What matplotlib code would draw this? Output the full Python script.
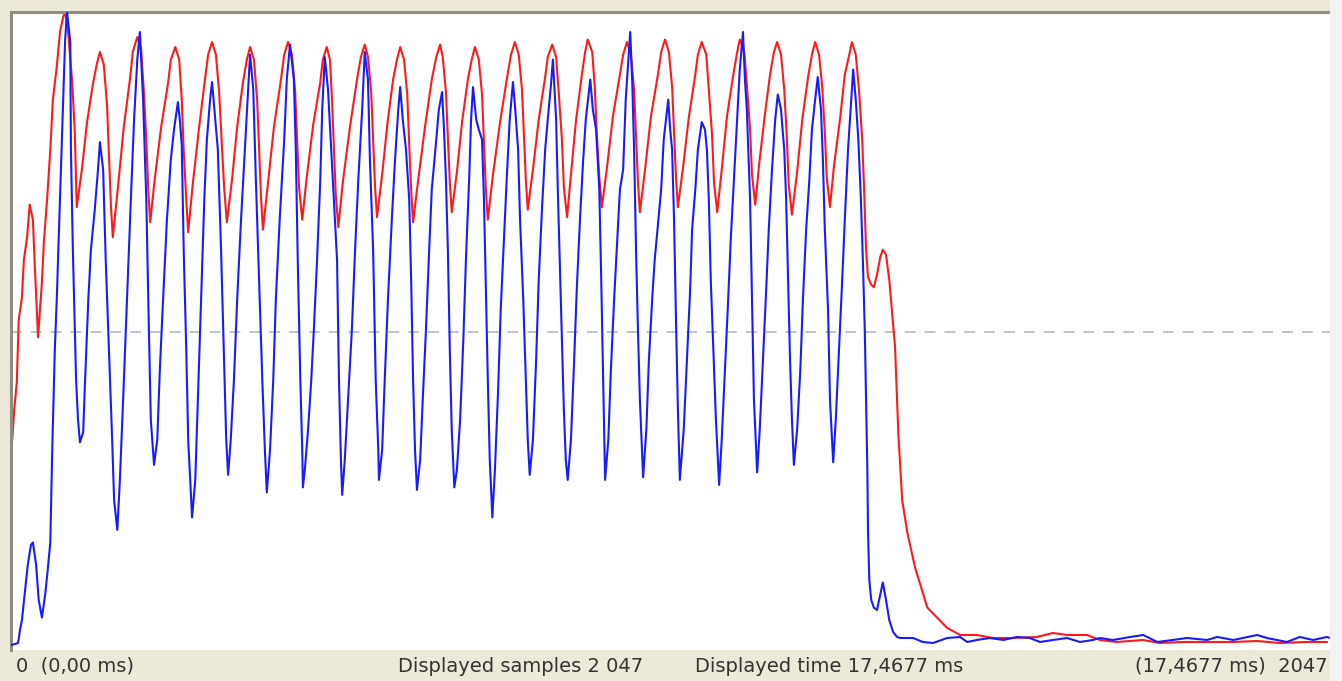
import matplotlib
matplotlib.use("Agg")
import matplotlib.pyplot as plt

# ---- data: sample index (0..2047) and ADC value (0..255) ----
red_s = [2, 5, 9, 12, 17, 20, 25, 29, 34, 37, 40, 42, 45, 48, 51, 56, 61, 65, 71, 76, 81, 84, 88, 95, 99, 102,
         110, 118, 127, 133, 138, 144, 149, 152, 155, 158,
         166, 175, 185, 189, 196, 202, 206, 210, 213, 216,
         223, 233, 244, 248, 255, 261, 265, 268, 272, 275,
         282, 292, 301, 306, 312, 318, 323, 327, 331, 335,
         343, 351, 360, 366, 371, 377, 382, 385, 388, 391,
         399, 408, 419, 424, 430, 436, 441, 444, 447, 452,
         459, 469, 480, 484, 490, 495, 498, 501, 504, 508,
         515, 526, 537, 543, 549, 554, 559, 562, 565, 568,
         576, 584, 593, 599, 604, 610, 615, 618, 621, 624,
         632, 643, 653, 660, 666, 670, 675, 678, 681, 684,
         692, 700, 709, 715, 720, 726, 731, 734, 737, 740,
         748, 759, 770, 776, 782, 788, 793, 796, 799, 802,
         810, 819, 829, 833, 840, 846, 850, 855, 858, 863,
         869, 877, 886, 891, 895, 902, 906, 909, 913, 917,
         925, 934, 945, 950, 956, 962, 967, 970, 973, 976,
         984, 993, 1004, 1009, 1015, 1021, 1026, 1029, 1032, 1035,
         1043, 1052, 1062, 1066, 1072, 1079, 1083, 1088, 1091, 1096,
         1103, 1111, 1121, 1127, 1131, 1138, 1142, 1147, 1150, 1155,
         1161, 1170, 1178, 1184, 1189, 1195, 1200, 1204, 1207, 1212,
         1220, 1228, 1237, 1243, 1248, 1254, 1259, 1263, 1266, 1271,
         1277, 1287, 1294, 1301, 1305, 1311, 1316, 1321, 1324, 1327, 1330, 1335, 1339,
         1344, 1349, 1353, 1358, 1363, 1367, 1372, 1377, 1383, 1391, 1403, 1422, 1453, 1473,
         1499, 1524, 1555, 1592, 1617, 1639, 1670, 1690, 1716, 1757, 1783, 1819, 1861, 1897,
         1934, 1969, 2011, 2042]
red_v = [84, 96, 107, 132, 141, 156, 165, 178, 172, 153, 136, 125, 136, 147, 163, 180, 200, 220, 233, 247, 253, 255, 249, 227, 207, 177,
         192, 211, 226, 234, 239, 234, 218, 198, 178, 165,
         185, 209, 229, 239, 245, 240, 224, 204, 184, 171,
         188, 209, 227, 236, 241, 236, 220, 200, 180, 167,
         186, 209, 228, 238, 243, 238, 223, 203, 184, 171,
         188, 209, 227, 236, 241, 236, 220, 201, 181, 168,
         187, 209, 228, 238, 243, 238, 223, 204, 185, 172,
         189, 210, 227, 236, 241, 236, 221, 202, 182, 169,
         187, 209, 228, 237, 242, 237, 223, 204, 185, 173,
         190, 210, 228, 236, 241, 236, 222, 202, 184, 171,
         188, 210, 228, 237, 242, 237, 223, 205, 187, 175,
         191, 211, 228, 236, 241, 236, 222, 203, 184, 172,
         190, 211, 229, 238, 243, 238, 224, 206, 188, 176,
         192, 212, 229, 237, 242, 237, 223, 204, 185, 173,
         190, 212, 230, 239, 244, 239, 225, 207, 189, 177,
         193, 213, 230, 238, 243, 238, 224, 206, 187, 175,
         192, 213, 230, 239, 244, 239, 225, 207, 189, 177,
         193, 213, 230, 238, 243, 238, 224, 206, 187, 175,
         192, 213, 230, 239, 244, 239, 226, 208, 190, 178,
         194, 214, 230, 239, 243, 238, 224, 205, 186, 174,
         191, 212, 229, 238, 243, 238, 225, 207, 189, 177,
         193, 213, 230, 238, 243, 238, 224, 204, 184, 160, 149, 146, 145,
         150, 157, 160, 158, 148, 136, 121, 87, 60, 47, 33, 17, 8.8, 6,
         6, 4.8, 4.8, 5.2, 6.8, 6, 6, 4, 3.2, 4, 2.8, 3.2, 3.2, 3.2,
         3.6, 2.8, 3.2, 3.2]

blue_s = [0, 6, 11, 14, 17, 22, 26, 31, 34, 39, 43, 48, 53, 57, 61, 64, 68, 71, 76, 81, 84, 87, 92, 93, 96, 101, 104, 107,
          112, 115, 120, 124, 130, 135, 138, 143, 147, 152, 157, 160, 165,
          169, 174, 180, 186, 191, 196, 200, 205, 210, 214, 217, 222,
          227, 231, 236, 242, 248, 253, 259, 262, 265, 268, 272, 275, 281,
          286, 290, 295, 300, 304, 309, 312, 317, 321, 326, 331, 334, 337,
          341, 346, 351, 357, 363, 368, 371, 376, 380, 385, 390, 394, 397,
          402, 407, 411, 417, 424, 428, 433, 439, 442, 445, 449, 452, 453,
          456, 461, 466, 470, 475, 480, 483, 487, 492, 497, 501, 506, 509, 512, 514,
          518, 523, 529, 534, 539, 545, 549, 554, 557, 562, 566, 570, 571,
          576, 580, 585, 591, 596, 601, 604, 608, 613, 618, 621, 624, 627, 630,
          635, 639, 644, 649, 653, 660, 664, 669, 672, 675, 678, 681, 684, 688,
          692, 697, 702, 706, 711, 714, 717, 722, 726, 731, 734, 737, 740, 743, 747,
          751, 756, 760, 765, 770, 774, 779, 782, 787, 790, 795, 799, 802, 805,
          810, 815, 819, 824, 829, 833, 838, 841, 846, 849, 852, 855, 858, 861, 864,
          869, 874, 878, 883, 888, 892, 899, 903, 908, 913, 916, 919, 922,
          927, 931, 936, 941, 945, 950, 954, 961, 964, 967, 970, 973, 976, 981,
          986, 990, 995, 999, 1004, 1009, 1013, 1020, 1023, 1026, 1029, 1032, 1035, 1038,
          1044, 1049, 1054, 1057, 1062, 1066, 1072, 1077, 1080, 1083, 1086, 1090, 1094, 1099,
          1103, 1108, 1113, 1117, 1122, 1127, 1131, 1136, 1139, 1142, 1147, 1150, 1153, 1158,
          1162, 1167, 1172, 1176, 1181, 1186, 1190, 1195, 1200, 1203, 1206, 1209, 1212, 1215,
          1220, 1225, 1229, 1234, 1239, 1243, 1248, 1252, 1257, 1260, 1263, 1268, 1271, 1276,
          1280, 1285, 1290, 1294, 1299, 1304, 1307, 1311, 1315, 1319, 1322, 1325, 1327, 1329,
          1330, 1332, 1335, 1339, 1344, 1349, 1353, 1358, 1363, 1369, 1375,
          1380, 1400, 1415, 1431, 1453, 1473, 1484, 1499, 1519, 1540, 1561, 1581, 1597, 1617,
          1639, 1659, 1679, 1690, 1710, 1737, 1757, 1779, 1803, 1825, 1856, 1872, 1897, 1934,
          1949, 1980, 2000, 2021, 2042, 2047]
blue_v = [2, 2.4, 2.8, 8, 12, 24, 34, 42, 43, 34, 20, 13, 22, 32, 43, 80, 120, 140, 180, 220, 244, 255, 243, 200, 160, 108, 92, 83,
          87, 108, 140, 160, 176, 192, 203, 192, 156, 120, 84, 60, 48,
          68, 100, 140, 180, 212, 236, 247, 220, 180, 128, 92, 74,
          84, 112, 140, 172, 196, 208, 219, 212, 202, 160, 120, 84, 53,
          68, 100, 140, 180, 204, 220, 227, 212, 200, 160, 112, 84, 70,
          84, 108, 140, 172, 200, 224, 238, 224, 188, 148, 108, 80, 63,
          80, 108, 140, 172, 204, 228, 242, 228, 200, 156, 108, 80, 65,
          72, 88, 108, 128, 156, 188, 216, 237, 224, 200, 180, 156, 108, 76, 62,
          76, 100, 128, 160, 188, 216, 239, 228, 196, 160, 108, 80, 68,
          80, 108, 140, 172, 196, 216, 225, 212, 200, 180, 148, 108, 80, 64,
          76, 100, 128, 160, 184, 204, 216, 223, 208, 188, 160, 120, 88, 65,
          72, 92, 124, 156, 188, 212, 225, 212, 208, 204, 180, 144, 108, 76, 53,
          72, 104, 136, 164, 192, 212, 227, 218, 200, 172, 140, 108, 84, 70,
          84, 116, 148, 176, 200, 212, 226, 236, 212, 180, 152, 124, 96, 76, 68,
          84, 116, 144, 172, 196, 212, 228, 216, 208, 184, 148, 108, 68,
          84, 112, 140, 164, 184, 192, 220, 247, 228, 200, 160, 128, 100, 69,
          88, 116, 140, 156, 170, 184, 204, 220, 208, 200, 172, 132, 96, 68,
          88, 116, 144, 168, 184, 200, 211, 208, 200, 180, 148, 120, 92, 66,
          84, 112, 140, 164, 188, 212, 232, 247, 228, 216, 180, 140, 100, 71,
          88, 116, 144, 168, 192, 212, 222, 216, 200, 180, 148, 116, 92, 74,
          88, 112, 140, 168, 188, 208, 220, 229, 216, 196, 168, 136, 100, 75,
          92, 120, 148, 172, 200, 220, 232, 220, 204, 180, 156, 128, 100, 72,
          48, 28, 20, 17, 16, 22, 27, 20, 12, 7.2, 5.2,
          4.8, 4.8, 3.2, 2.8, 4.8, 5.2, 3.2, 4, 4.8, 4, 5.2, 4.8, 3.2, 4,
          4.8, 3.2, 4, 4.8, 4, 5.2, 6, 3.2, 4, 4.8, 4, 5.2, 4, 6,
          4.8, 3.2, 5.2, 4, 5.2, 4.8]

x_ticks_text = ["0  (0,00 ms)", "Displayed samples 2 047", "Displayed time 17,4677 ms", "(17,4677 ms)  2047"]
n_samples = 2047
mid_level = 127

W, H = 1342, 681
fig = plt.figure(figsize=(W / 100, H / 100), dpi=100, facecolor="#ECE9D8")
ax = fig.add_axes([11 / W, 1 - 650 / H, (1330 - 11) / W, (650 - 12) / H])
ax.set_facecolor("white")
ax.set_xlim(0, n_samples)
ax.set_ylim(0, 255)
ax.set_xticks([])
ax.set_yticks([])
for side in ["right", "bottom"]:
    ax.spines[side].set_visible(False)
for side in ["left", "top"]:
    ax.spines[side].set_color("#8E8C80")
    ax.spines[side].set_linewidth(2.2)

ax.axhline(mid_level, color="#BDBDBD", lw=1.3, dashes=(6, 5), zorder=1)
ax.plot(red_s, red_v, color="#FF1A1A", lw=1.5, zorder=2)
ax.plot(blue_s, blue_v, color="#1A1AFF", lw=1.5, zorder=3)

# right light strip
fig.patches.append(plt.Rectangle((1330 / W, 0), 12 / W, 1, transform=fig.transFigure,
                                 color="#F2F2F2", zorder=0))

ty = 1 - 666 / H
fs = 14
tc = "#333333"
fig.text(16 / W, ty, x_ticks_text[0], ha="left", va="center", fontsize=fs, color=tc)
fig.text(398 / W, ty, x_ticks_text[1], ha="left", va="center", fontsize=fs, color=tc)
fig.text(695 / W, ty, x_ticks_text[2], ha="left", va="center", fontsize=fs, color=tc)
fig.text(1328 / W, ty, x_ticks_text[3], ha="right", va="center", fontsize=fs, color=tc)

fig.savefig("out.png", dpi=100, facecolor=fig.get_facecolor())
